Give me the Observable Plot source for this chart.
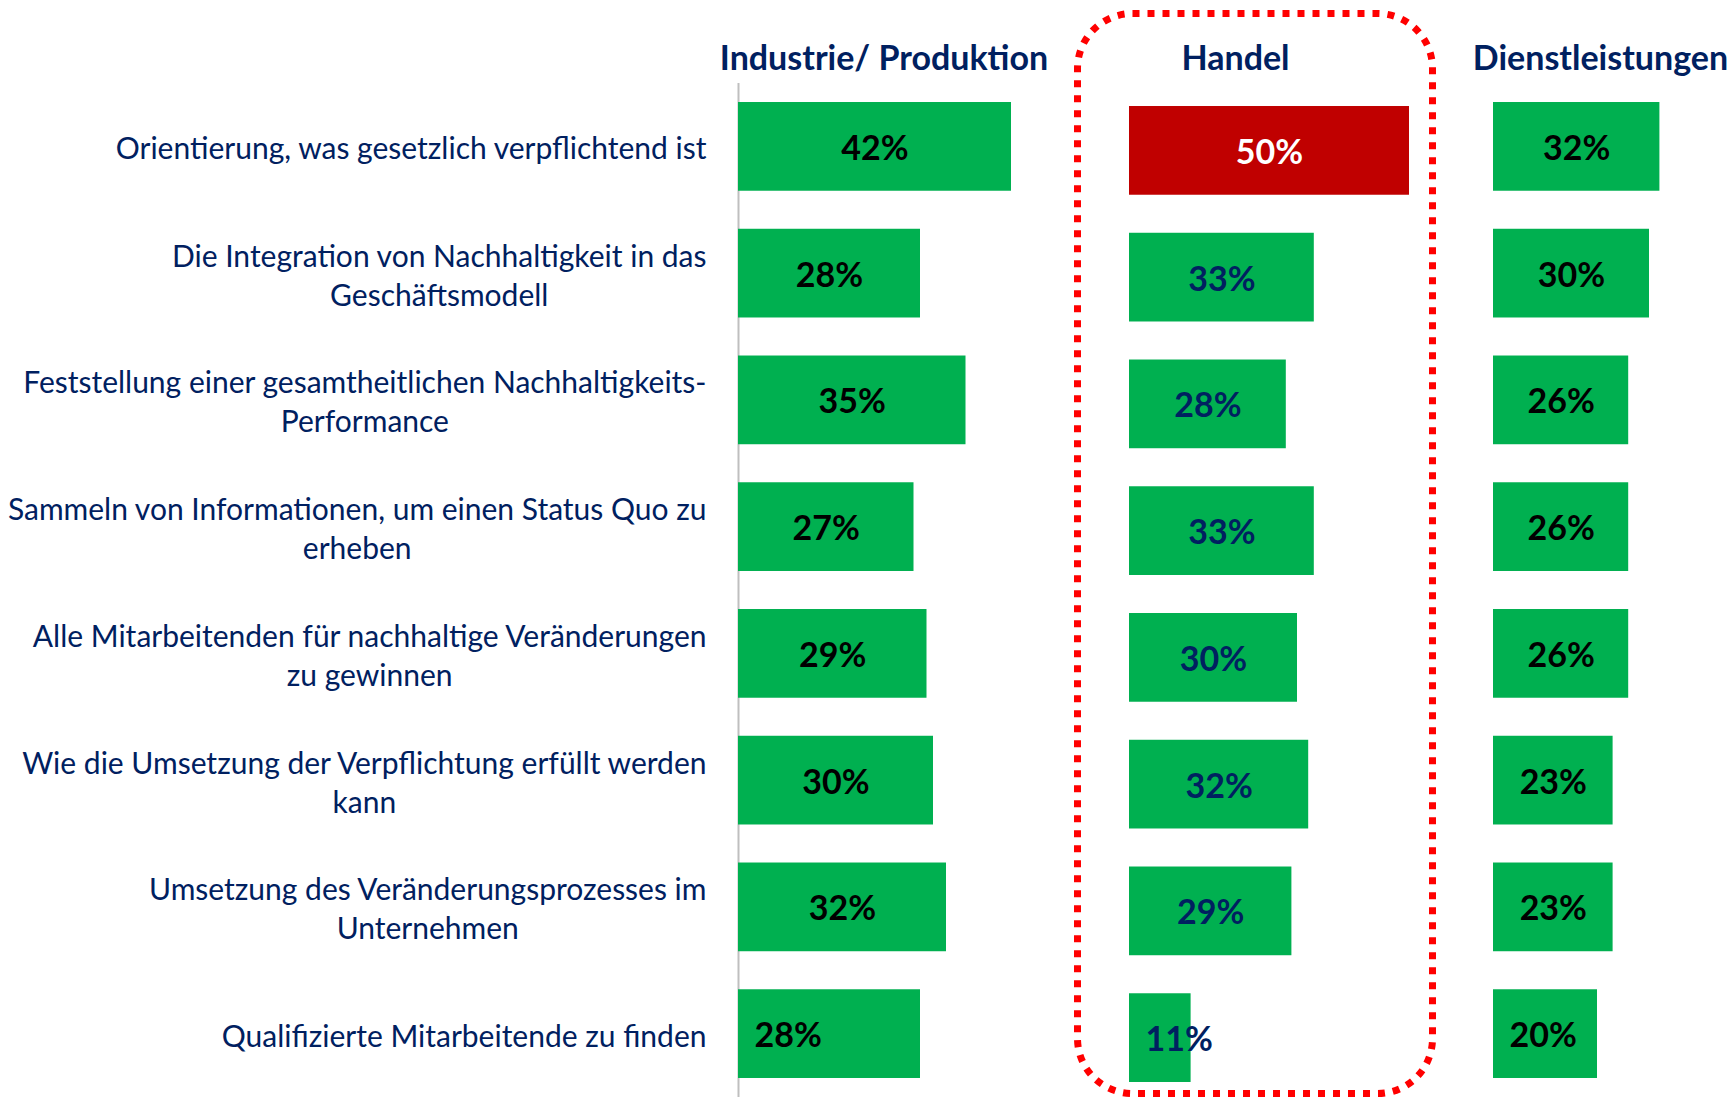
<!DOCTYPE html>
<html><head><meta charset="utf-8">
<script src="https://cdn.jsdelivr.net/npm/d3@7"></script>
<script src="https://cdn.jsdelivr.net/npm/@observablehq/plot@0.6"></script>
<style>
html,body{margin:0;padding:0;background:#fff;overflow:hidden}
#chart{position:relative;width:1734px;height:1097px}
</style></head><body><div id="chart"></div>
<script>
const categories = [
  "Orientierung, was gesetzlich verpflichtend ist",
  "Die Integration von Nachhaltigkeit in das\nGeschäftsmodell",
  "Feststellung einer gesamtheitlichen Nachhaltigkeits-\nPerformance",
  "Sammeln von Informationen, um einen Status Quo zu\nerheben",
  "Alle Mitarbeitenden für nachhaltige Veränderungen\nzu gewinnen",
  "Wie die Umsetzung der Verpflichtung erfüllt werden\nkann",
  "Umsetzung des Veränderungsprozesses im\nUnternehmen",
  "Qualifizierte Mitarbeitende zu finden"
];
const sectors = ["Industrie/ Produktion", "Handel", "Dienstleistungen"];
const industrie = [42, 28, 35, 27, 29, 30, 32, 28];
const handel = [50, 33, 28, 33, 30, 32, 29, 11];
const dienstleistungen = [32, 30, 26, 26, 26, 23, 23, 20];
const highlightHandel = [true, false, false, false, false, false, false, false];

const NAVY = "#002060", GREEN = "#00B050", RED = "#C00000";
const FONT = "Lato, 'Open Sans', sans-serif";

function rows(values, hl) {
  return values.map((v, i) => ({
    category: categories[i], value: v, last: i === categories.length - 1,
    hl: hl ? hl[i] : false
  }));
}

function panel({values, hl, header, left, width, marginLeft, domainMax, headerDx, labelFill, dy = 0, extra = []}) {
  const data = rows(values, hl);
  const lab = d => d.value + "%";
  return Plot.plot({
    width, height: 1097,
    marginLeft, marginRight: 0, marginTop: 83, marginBottom: 0,
    x: {domain: [0, domainMax], axis: null},
    y: {type: "band", domain: categories, paddingInner: 0.3, paddingOuter: 0.15, round: false, axis: null},
    color: {type: "identity"},
    style: {position: "absolute", left: left + "px", top: "0px", fontFamily: FONT, fontSize: "30px", color: NAVY, overflow: "visible", background: "transparent"},
    marks: [
      ...extra,
      Plot.barX(data, {x: "value", y: "category", fill: d => d.hl ? RED : GREEN, dy}),
      Plot.text(data.filter(d => !d.last), {x: d => d.value / 2, y: "category", text: lab, dy: dy + 2,
        fill: d => d.hl ? "#FFFFFF" : labelFill, fontWeight: "bold", fontSize: 34}),
      Plot.text(data.filter(d => d.last), {x: d => 0, y: "category", text: lab, dy: dy + 2, dx: 16, textAnchor: "start",
        fill: labelFill, fontWeight: "bold", fontSize: 34}),
      Plot.text([header], {frameAnchor: "top", lineAnchor: "middle", dy: -24, dx: headerDx,
        fill: NAVY, fontWeight: "bold", fontSize: 34})
    ]
  });
}

const chart = document.getElementById("chart");

// Panel A: Industrie / Produktion  (6.5 px per %)
const a = panel({
  values: industrie, header: sectors[0], left: 0, width: 1063, marginLeft: 738,
  domainMax: 50, headerDx: -17, labelFill: "#000000",
  extra: [
    Plot.ruleX([0], {stroke: "#BFBFBF", strokeWidth: 2}),
    Plot.axisY({tickSize: 0, tickPadding: 32, fontSize: 30, lineHeight: 1.3, textAnchor: "end", label: null})
  ]
});
chart.append(a);

// Panel B: Handel (5.6 px per %)
const b = panel({
  values: handel, hl: highlightHandel, header: sectors[1], left: 1064, width: 345, marginLeft: 65,
  domainMax: 50, headerDx: -34, labelFill: NAVY, dy: 4,
  extra: [
    Plot.frame({stroke: "#FF0000", strokeWidth: 7, strokeDasharray: "7 8", rx: 55, ry: 55,
      insetLeft: -52, insetRight: -23, insetTop: -70, insetBottom: 4})
  ]
});
chart.append(b);

// Panel C: Dienstleistungen (5.2 px per %)
const c = panel({
  values: dienstleistungen, header: sectors[2], left: 1444, width: 283, marginLeft: 49,
  domainMax: 45, headerDx: -10, labelFill: "#000000"
});
chart.append(c);

// center multi-line category labels (each line centered within the right-aligned block)
a.querySelectorAll('[aria-label="y-axis tick label"] text').forEach(t => {
  const spans = t.querySelectorAll("tspan");
  if (spans.length > 1) {
    const w = t.getBBox().width;
    t.setAttribute("text-anchor", "middle");
    spans.forEach(s => s.setAttribute("x", -w / 2));
  }
});
</script></body></html>
